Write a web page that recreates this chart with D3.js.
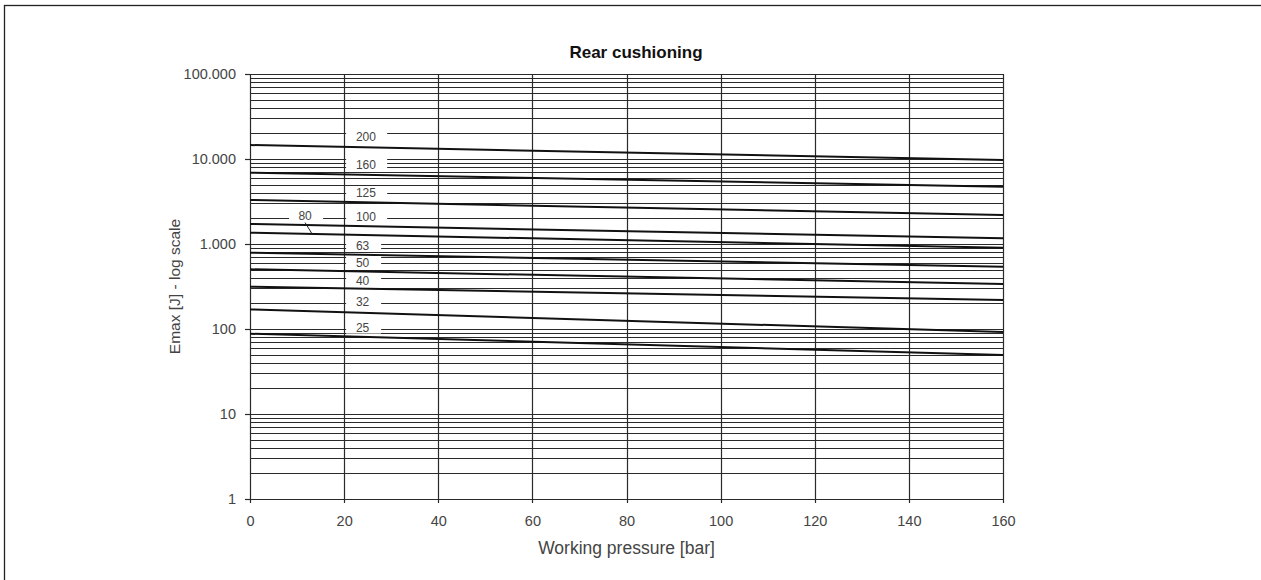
<!DOCTYPE html>
<html>
<head>
<meta charset="utf-8">
<script src="https://cdn.jsdelivr.net/npm/d3@7"></script>
<style>
html,body{margin:0;padding:0;background:#fff;}
svg{display:block;font-family:"Liberation Sans",Arial,Helvetica,sans-serif;}
</style>
</head>
<body>
<svg id="chart" width="1261" height="580"></svg>
<script>
// ---- data ----
const sizes = ["25","32","40","50","63","80","100","125","160","200"];
const pressureStart = 0;
const pressureEnd = 160;
const emaxAtStart = [88, 170, 315, 504, 790, 1358, 1720, 3295, 6900, 14600];
const emaxAtEnd   = [49.5, 92, 219, 338, 541, 905, 1167, 2194, 4720, 9730];
const labelPressure = [22.5, 22.5, 22.5, 22.5, 22.5, 11.7, 22.5, 22.5, 22.5, 22.5];
const labelEmax     = [104, 210, 370, 598, 965, 2160, 2080, 3980, 8500, 18150];
const xTicks = [0, 20, 40, 60, 80, 100, 120, 140, 160];
const yTicks = [1, 10, 100, 1000, 10000, 100000];
const yTickLabels = ["1", "10", "100", "1.000", "10.000", "100.000"];

// ---- layout ----
const svg = d3.select("#chart");
const pL = 250, pR = 1003, pT = 74, pB = 499;
const x = d3.scaleLinear().domain([0, 160]).range([pL, pR]);
const y = d3.scaleLog().domain([1, 100000]).range([pB, pT]);
const FONT = "Liberation Sans, Arial, sans-serif";

// outer frame
svg.append("rect").attr("x", 4.5).attr("y", 5.5).attr("width", 1300).attr("height", 700)
  .attr("fill", "none").attr("stroke", "#222").attr("stroke-width", 1.3);

// horizontal gridlines (minor log)
const gridVals = [];
for (let d = 1; d < 100000; d *= 10) for (let m = 1; m <= 9; m++) gridVals.push(m * d);
gridVals.push(100000);
svg.append("g").selectAll("line").data(gridVals).join("line")
  .attr("x1", pL).attr("x2", pR)
  .attr("y1", d => Math.round(y(d)) + 0.5).attr("y2", d => Math.round(y(d)) + 0.5)
  .attr("stroke", "#2a2a2a").attr("stroke-width", 1.1);

// vertical gridlines
svg.append("g").selectAll("line").data(xTicks).join("line")
  .attr("x1", d => Math.round(x(d)) + 0.5).attr("x2", d => Math.round(x(d)) + 0.5)
  .attr("y1", pT).attr("y2", pB + 4)
  .attr("stroke", "#2a2a2a").attr("stroke-width", 1.2);

// left axis ticks and labels
const yAxis = d3.axisLeft(y).tickValues(yTicks).tickSize(5).tickPadding(9)
  .tickFormat((d, i) => yTickLabels[i]);
const gy = svg.append("g").attr("transform", `translate(${pL},0)`).call(yAxis)
  .attr("font-family", FONT).attr("font-size", 14.5);
gy.select(".domain").attr("stroke", "#2a2a2a");
gy.selectAll(".tick line").attr("stroke", "#2a2a2a").attr("stroke-width", 1.2);
gy.selectAll(".tick text").attr("fill", "#444");

// bottom axis labels
const xAxis = d3.axisBottom(x).tickValues(xTicks).tickSize(0).tickPadding(17);
const gx = svg.append("g").attr("transform", `translate(0,${pB})`).call(xAxis)
  .attr("font-family", FONT).attr("font-size", 14.5);
gx.select(".domain").remove();
gx.selectAll(".tick text").attr("fill", "#444");

// curves
const line = d3.line().x(d => x(d[0])).y(d => y(d[1]));
svg.append("g").selectAll("path").data(sizes).join("path")
  .attr("d", (s, i) => line([[pressureStart, emaxAtStart[i]], [pressureEnd, emaxAtEnd[i]]]))
  .attr("fill", "none").attr("stroke", "#111").attr("stroke-width", 2);

// labels
const lab = svg.append("g").attr("font-family", FONT);
sizes.forEach((s, i) => {
  const lx = x(labelPressure[i]), ly = y(labelEmax[i]);
  if (s === "80") {
    lab.append("rect").attr("x", lx - 16).attr("y", ly - 7).attr("width", 34).attr("height", 13).attr("fill", "#fff");
    lab.append("text").attr("x", lx).attr("y", ly).attr("dy", "0.35em").attr("text-anchor", "middle")
      .attr("font-size", 12).attr("fill", "#444").text(s);
    // leader from label to its curve
    const px = labelPressure[i] + 1.5;
    const t = (px - pressureStart) / (pressureEnd - pressureStart);
    const cy = y(emaxAtStart[i]) + (y(emaxAtEnd[i]) - y(emaxAtStart[i])) * t;
    lab.append("line").attr("x1", lx).attr("y1", ly + 7)
      .attr("x2", x(px)).attr("y2", cy)
      .attr("stroke", "#222").attr("stroke-width", 1);
  } else {
    const w = s.length === 3 ? 41 : 35;
    lab.append("rect").attr("x", x(20) + 2).attr("y", ly - 7).attr("width", w).attr("height", 13).attr("fill", "#fff");
    lab.append("text").attr("x", lx).attr("y", ly).attr("dy", "0.35em")
      .attr("font-size", 12).attr("fill", "#444").text(s);
  }
});

// title and axis labels
svg.append("text").attr("x", 636).attr("y", 58).attr("text-anchor", "middle")
  .attr("font-family", FONT).attr("font-size", 17).attr("font-weight", "bold").attr("fill", "#111").text("Rear cushioning");
svg.append("text").attr("x", (pL + pR) / 2).attr("y", 554).attr("text-anchor", "middle")
  .attr("font-family", FONT).attr("font-size", 17.5).attr("fill", "#444").text("Working pressure [bar]");
svg.append("text").attr("transform", `translate(180,${(pT + pB) / 2}) rotate(-90)`)
  .attr("text-anchor", "middle").attr("font-family", FONT).attr("font-size", 15.5).attr("fill", "#444").text("Emax [J] - log scale");
</script>
</body>
</html>
